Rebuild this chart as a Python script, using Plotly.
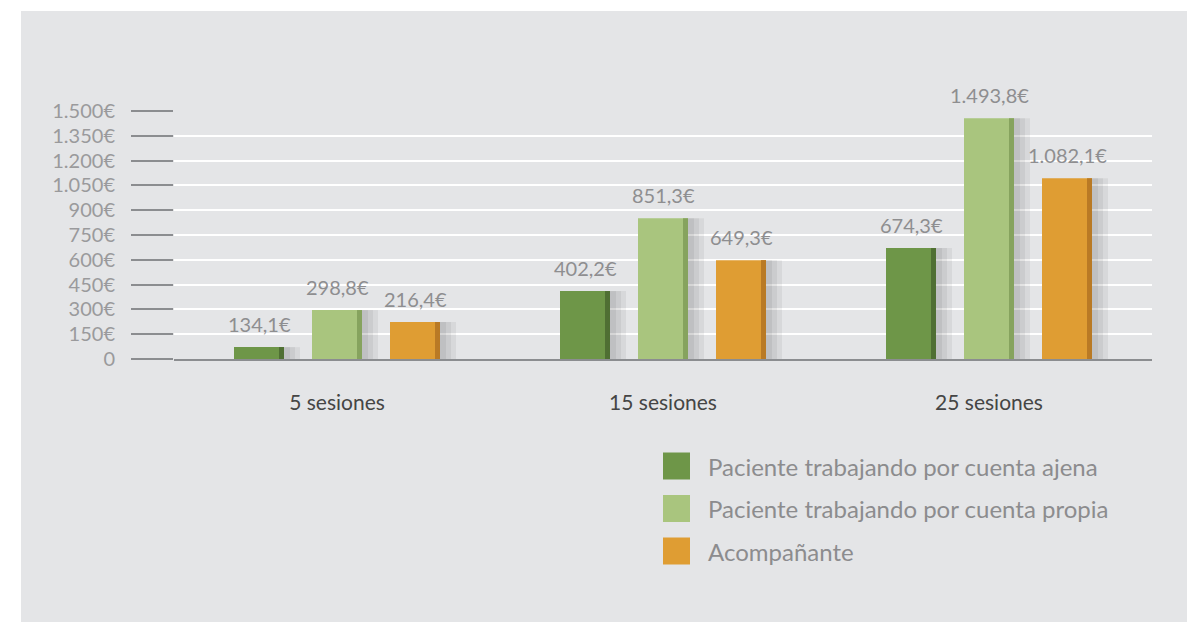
import plotly.graph_objects as go

## datos
sesiones = ["5 sesiones", "15 sesiones", "25 sesiones"]
series = ["Paciente trabajando por cuenta ajena",
          "Paciente trabajando por cuenta propia",
          "Acompañante"]
## altura de cada barra tal como se dibuja
ajena = [72, 411, 671]
propia = [296, 852, 1456]
acompanante = [224, 598, 1094]
## etiquetas sobre las barras
ajena_txt = ["134,1€", "402,2€", "674,3€"]
propia_txt = ["298,8€", "851,3€", "1.493,8€"]
acompanante_txt = ["216,4€", "649,3€", "1.082,1€"]
## eje y
y_ticks = [0, 150, 300, 450, 600, 750, 900, 1050, 1200, 1350, 1500]
y_ticktext = ["0", "150€", "300€", "450€", "600€", "750€", "900€",
              "1.050€", "1.200€", "1.350€", "1.500€"]

colores = ["#6e9648", "#a9c57e", "#df9d33"]
bordes = ["#4f6f33", "#86a35e", "#b97a25"]

## la pagina deja 8px de margen: coordenadas de pantalla -> figura
OFF = 8
W, H = 1198, 622
## area de dibujo en pantalla: x 174..1152, y 111..359
L = 174 - OFF
T = 111 - OFF
R = W - (1152 - OFF)
B = H - (359 - OFF)
pw = W - L - R
ph = H - T - B
bar_w = 50 / (pw / 3.0)
step = 78 / (pw / 3.0)
strip_w = 5 / (pw / 3.0)


def px(x):
  return (x - OFF - L) / pw


def py(y):
  return (H - B - (y - OFF)) / ph


fig = go.Figure()
valores = [ajena, propia, acompanante]
textos = [ajena_txt, propia_txt, acompanante_txt]
for i, vals in enumerate(valores):
  centro = (i - 1) * step
  right = centro + bar_w / 2
  ## sombra suave
  for sw in [16, 11, 6]:
    fig.add_trace(go.Bar(x=sesiones, y=vals, width=sw / (pw / 3.0), offset=right,
                         marker_color="rgba(0,0,0,0.055)", marker_line_width=0,
                         showlegend=False, hoverinfo="skip"))
  fig.add_trace(go.Bar(x=sesiones, y=vals, name=series[i], width=bar_w,
                       offset=centro - bar_w / 2, marker_color=colores[i],
                       marker_line_width=0, showlegend=False))
  fig.add_trace(go.Bar(x=sesiones, y=vals, width=strip_w, offset=right - strip_w,
                       marker_color=bordes[i], marker_line_width=0,
                       showlegend=False, hoverinfo="skip"))
  for j, v in enumerate(vals):
    fig.add_annotation(x=j + centro, y=v, text=textos[i][j], showarrow=False,
                       yanchor="bottom", yshift=9,
                       font=dict(family="Lato", size=20, color="#8e8e90"))

## panel gris de fondo
fig.add_shape(type="rect", xref="paper", yref="paper", layer="below",
              x0=px(21), x1=px(1187), y0=py(640), y1=py(11),
              fillcolor="#e4e5e7", line_width=0)

## leyenda manual
for i, nombre in enumerate(series):
  cy = 466 + i * 42.5
  fig.add_shape(type="rect", xref="paper", yref="paper",
                x0=px(663), x1=px(690), y0=py(cy + 13.5), y1=py(cy - 13.5),
                fillcolor=colores[i], line_width=0)
  fig.add_annotation(xref="paper", yref="paper", x=px(706), y=py(cy),
                     text=nombre, showarrow=False,
                     xanchor="left", yanchor="middle",
                     font=dict(family="Lato", size=24, color="#8c8c8e"))

fig.update_layout(
  width=W, height=H,
  margin=dict(l=L, r=R, t=T, b=B),
  barmode="overlay",
  paper_bgcolor="white",
  plot_bgcolor="rgba(0,0,0,0)",
  showlegend=False,
  font=dict(family="Lato"),
)
fig.update_yaxes(range=[0, 1500], tickvals=y_ticks, ticktext=y_ticktext,
                 ticks="outside", ticklen=42, tickwidth=1.5, tickcolor="#8b8d90",
                 ticklabelstandoff=12, showgrid=True, gridcolor="white",
                 gridwidth=2, zeroline=False, showline=False,
                 tickfont=dict(family="Lato", size=20, color="#9a9a9c"))
fig.update_xaxes(showline=True, linecolor="#8b8d90", linewidth=1.5,
                 ticks="", showgrid=False, ticklabelstandoff=24,
                 tickfont=dict(family="Lato", size=21, color="#454545"))

fig.write_html("out.html")
